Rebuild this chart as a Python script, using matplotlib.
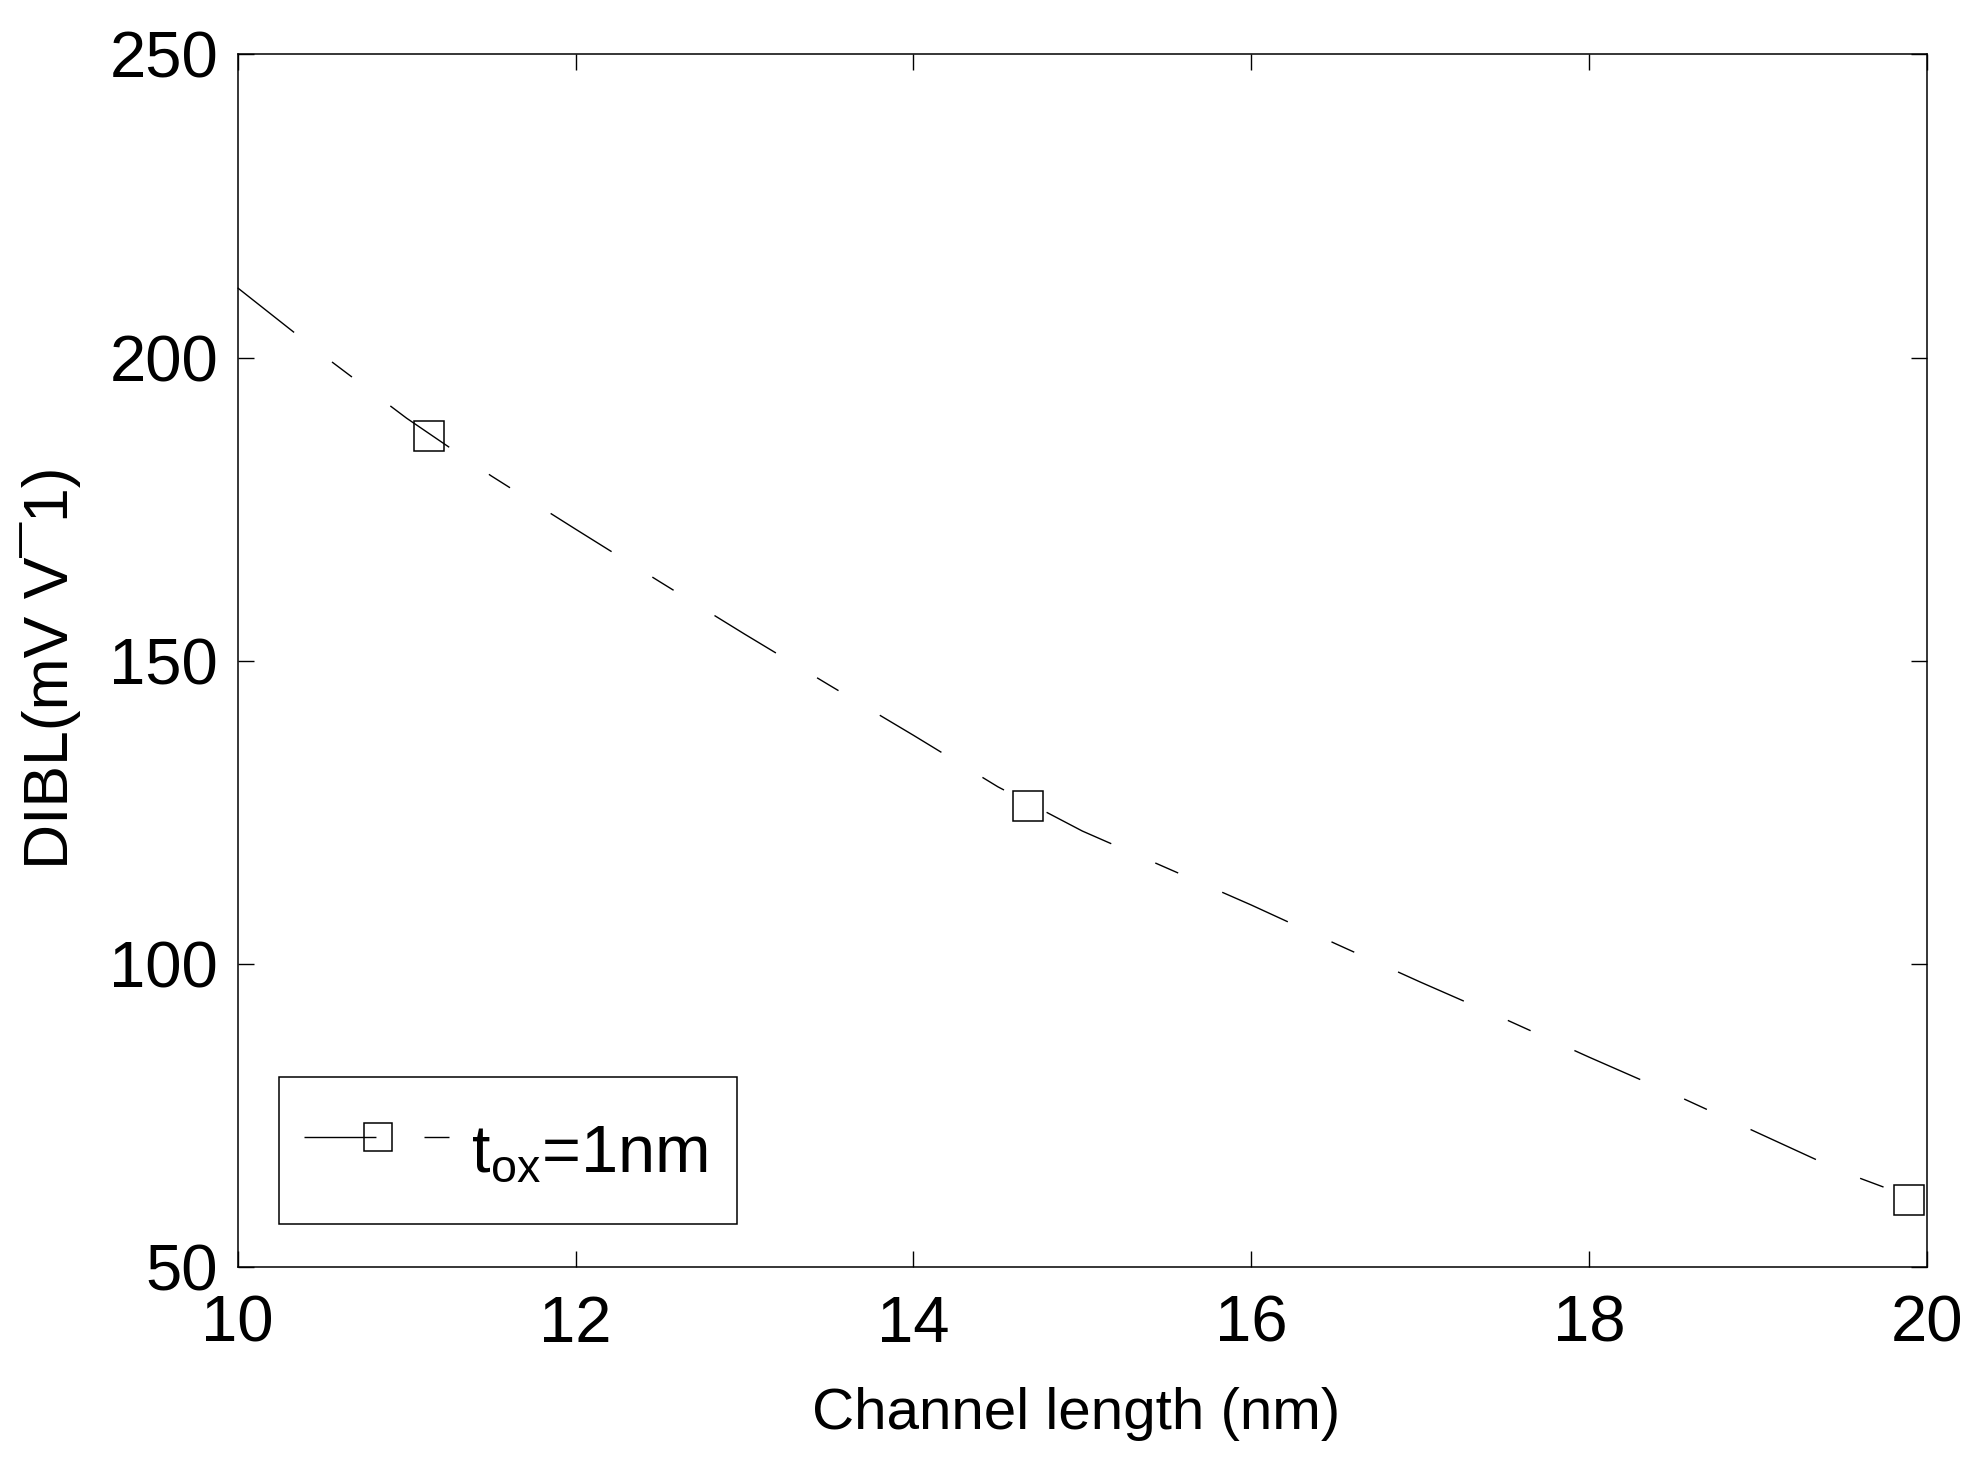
import matplotlib
matplotlib.use('Agg')
import matplotlib.pyplot as plt
from matplotlib.lines import Line2D

plt.rcParams['font.family'] = ['Liberation Sans', 'DejaVu Sans']
plt.rcParams['mathtext.fontset'] = 'custom'
plt.rcParams['mathtext.rm'] = 'Liberation Sans'
plt.rcParams['mathtext.it'] = 'Liberation Sans'
plt.rcParams['lines.scale_dashes'] = False

# curva DIBL
longitud = [10.0, 10.5, 11.0, 11.5, 12.0, 12.5, 13.0, 13.5, 14.0, 14.5,
            15.0, 15.5, 16.0, 16.5, 17.0, 17.5, 18.0, 18.5, 19.0, 19.5, 20.0]
dibl = [211.5, 200.5, 190.0, 180.5, 171.7, 163.0, 154.4, 146.0, 137.7, 129.2,
        121.9, 115.8, 109.7, 103.3, 97.0, 90.9, 84.6, 78.5, 72.1, 65.7, 60.5]

# puntos con marcador
longitud_pts = [11.13, 14.68, 19.89]
dibl_pts = [187.0, 126.1, 61.0]

xticks = [10, 12, 14, 16, 18, 20]
yticks = [50, 100, 150, 200, 250]

guiones = (0, (51.8, 34.6, 18.0, 34.6))

fig = plt.figure(figsize=(19.82, 14.71), dpi=100)
ax = fig.add_axes([0.1199, 0.1387, 0.8524, 0.8243])

ax.plot(longitud, dibl, color='k', lw=1.0, linestyle=guiones, clip_on=False)
ax.plot(longitud_pts, dibl_pts, linestyle='none', marker='s', ms=22,
        mfc='none', mec='k', mew=1.1, clip_on=False)

ax.set_xlim(10, 20)
ax.set_ylim(50, 250)
ax.set_xticks(xticks)
ax.set_yticks(yticks)
ax.tick_params(direction='in', length=11.5, width=1.0, labelsize=47,
               top=True, right=True)
ax.tick_params(axis='x', pad=20)
ax.tick_params(axis='y', pad=14)
for s in ax.spines.values():
    s.set_linewidth(1.1)

ax.set_xlabel('Channel length (nm)', fontsize=42)
ax.xaxis.set_label_coords(0.4963, -0.099)
ax.set_ylabel('DIBL(mV V\u00af1)', fontsize=45)
ax.yaxis.set_label_coords(-0.0928, 0.494)

muestra = Line2D([], [], color='k', lw=1.0, linestyle=guiones, marker='s',
                 ms=20, mfc='none', mec='k', mew=1.1)
leg = ax.legend([muestra], [r'$\mathregular{t_{ox}}$=1nm '], loc='lower left',
                bbox_to_anchor=(0.0244, 0.0355), borderaxespad=0,
                fontsize=48, handlelength=2.2, handletextpad=0.3,
                handleheight=1.85, numpoints=1, fancybox=False,
                framealpha=1, edgecolor='k', borderpad=0.38)
leg.get_frame().set_linewidth(1.1)

fig.savefig('out.png', dpi=100, facecolor='white')
